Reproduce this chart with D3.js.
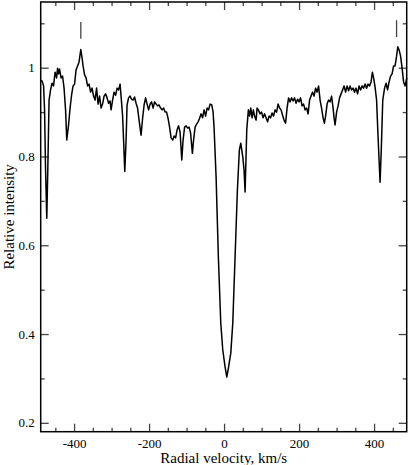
<!DOCTYPE html>
<html><head><meta charset="utf-8">
<script src="https://cdn.jsdelivr.net/npm/d3@7"></script>
<style>body{margin:0;background:#fff}svg{display:block}
text{font-family:"Liberation Serif","Times New Roman",Times,"DejaVu Serif",serif !important;}</style>
</head><body>
<script>
// Data
const velocity = [-488.8,-485.3,-481.3,-478.7,-476,-472.8,-470.1,-466.7,-462.7,-458.7,-454.7,-450.7,-446.7,-444,-441.3,-438.7,-434.7,-430.7,-426.7,-422.7,-419.5,-414.7,-410.7,-406.7,-402.7,-398.7,-394.7,-390.7,-386.7,-382.1,-378.7,-376,-372,-368,-364,-360,-356,-352,-348,-344,-340,-336,-332,-328,-324,-320,-316,-312,-308,-304,-301.3,-297.3,-293.3,-289.3,-285.3,-281.3,-277.3,-274.7,-270.7,-268,-264.8,-261.3,-258.7,-254.7,-250.7,-246.7,-242.7,-238.7,-234.7,-230.7,-226.7,-221.3,-217.3,-213.3,-209.3,-205.3,-201.3,-197.3,-193.3,-189.3,-185.3,-181.3,-177.3,-173.3,-169.3,-165.3,-161.3,-157.3,-153.3,-149.3,-145.3,-141.3,-136.8,-133.3,-129.3,-125.3,-121.3,-117.3,-112.8,-109.3,-105.3,-101.3,-97.3,-93.3,-89.3,-84.5,-81.3,-77.3,-73.3,-69.3,-65.3,-61.3,-57.3,-53.3,-49.3,-45.3,-41.3,-37.3,-32.8,-29.3,-26.7,-21.3,-15.2,-8.8,-3.5,2.7,7.2,11.5,17.9,23.2,29.3,35.5,40.8,44.5,49.9,53.3,56,60.5,64.8,68,71.2,74.7,78.1,81.3,85.3,88,91.5,96,100,104,108,112,116,120,124,128,132,136,140,144,148,152,156,160,164,168,172,176,180,184,188,192,196,200,204,208,212,216,220,224,228,232,236,240,244,248,252,256,260,264,267.5,270.7,274.7,278.7,282.7,286.7,290.7,293.3,296,300,304,308,312,316,320,324,328,332,336,340,344,348,352,356,360,364,368,372,376,380,384,388,392,395.5,398.7,402.7,406.7,409.9,413.3,416,419.2,423.2,428,432,436,440,444,448,452,456,460,463.2,466.7,470.7,474.7,478.7,482.7,487.2];
const intensity = [0.972,0.970,0.959,0.905,0.769,0.661,0.769,0.927,0.950,0.965,0.959,0.990,0.977,0.999,0.986,0.997,0.977,0.981,0.954,0.905,0.837,0.871,0.909,0.938,0.959,0.963,0.995,1.004,1.013,1.041,1.022,1.004,0.984,0.977,0.959,0.963,0.945,0.954,0.936,0.927,0.954,0.918,0.936,0.909,0.918,0.936,0.941,0.932,0.920,0.925,0.905,0.927,0.945,0.938,0.954,0.950,0.963,0.936,0.893,0.837,0.766,0.837,0.916,0.932,0.936,0.929,0.927,0.934,0.920,0.909,0.882,0.848,0.886,0.916,0.932,0.918,0.905,0.918,0.923,0.909,0.923,0.918,0.914,0.916,0.909,0.905,0.909,0.900,0.900,0.886,0.866,0.842,0.837,0.846,0.842,0.860,0.869,0.855,0.792,0.837,0.866,0.869,0.864,0.866,0.853,0.807,0.837,0.866,0.873,0.878,0.886,0.896,0.887,0.905,0.891,0.909,0.905,0.918,0.916,0.900,0.866,0.754,0.573,0.425,0.364,0.326,0.303,0.323,0.357,0.425,0.573,0.724,0.815,0.830,0.799,0.769,0.720,0.860,0.905,0.891,0.909,0.887,0.905,0.891,0.882,0.909,0.905,0.896,0.900,0.887,0.896,0.887,0.878,0.891,0.887,0.898,0.891,0.905,0.900,0.918,0.909,0.905,0.893,0.882,0.875,0.909,0.932,0.923,0.932,0.925,0.932,0.920,0.929,0.923,0.932,0.914,0.918,0.905,0.909,0.896,0.927,0.936,0.945,0.936,0.954,0.945,0.959,0.927,0.909,0.887,0.875,0.891,0.918,0.927,0.923,0.936,0.909,0.887,0.871,0.900,0.914,0.932,0.941,0.950,0.959,0.945,0.959,0.948,0.959,0.950,0.954,0.945,0.954,0.941,0.959,0.950,0.959,0.954,0.963,0.954,0.963,0.959,0.968,0.990,0.977,0.956,0.927,0.860,0.792,0.742,0.815,0.927,0.954,0.965,0.950,0.968,0.981,0.986,1.004,1.004,1.026,1.047,1.040,1.026,0.999,0.968,0.959,0.977];
const markerVelocity = [-382, 460];
const markerTop = [1.103, 1.107];
const markerBottom = [1.065, 1.069];
const xTicks = [-400, -200, 0, 200, 400];
const xTickLabels = ["-400", "-200", "0", "200", "400"];
const xMinorTicks = [-450,-350,-300,-250,-150,-100,-50,50,100,150,250,300,350,450];
const yTicks = [0.2, 0.4, 0.6, 0.8, 1.0];
const yTickLabels = ["0.2", "0.4", "0.6", "0.8", "1"];
const yMinorTicks = [0.3, 0.5, 0.7, 0.9, 1.1];
const xTitle = "Radial velocity, km/s";
const yTitle = "Relative intensity";

const W = 409, H = 465;
const m = {left: 40.7, right: 2.3, top: 2, bottom: 33.3};
const svg = d3.select("body").append("svg").attr("width", W).attr("height", H);
const x = d3.scaleLinear().domain([-489, 487]).range([m.left, W - m.right]);
const y = d3.scaleLinear().domain([0.18, 1.148]).range([H - m.bottom, m.top]);
const font = "Liberation Serif, Times New Roman, Times, DejaVu Serif, serif";

const tickColor = "#444";
const pw = W - m.left - m.right, ph = H - m.top - m.bottom;
// bottom axis (ticks inward)
const gb = svg.append("g").attr("transform", `translate(0,${H - m.bottom})`);
gb.call(d3.axisTop(x).tickValues(xTicks).tickSize(8).tickFormat(""));
gb.append("g").call(d3.axisTop(x).tickValues(xMinorTicks).tickSize(4).tickFormat(""));
const gbl = svg.append("g").attr("transform", `translate(0,${H - m.bottom})`)
  .call(d3.axisBottom(x).tickValues(xTicks).tickSize(0).tickPadding(7).tickFormat((d, i) => xTickLabels[i]));
gbl.select(".domain").remove();
// top axis
const gt = svg.append("g").attr("transform", `translate(0,${m.top})`);
gt.call(d3.axisBottom(x).tickValues(xTicks).tickSize(8).tickFormat(""));
gt.append("g").call(d3.axisBottom(x).tickValues(xMinorTicks).tickSize(4).tickFormat(""));
// left axis
const gl = svg.append("g").attr("transform", `translate(${m.left},0)`);
gl.call(d3.axisRight(y).tickValues(yTicks).tickSize(8).tickFormat(""));
gl.append("g").call(d3.axisRight(y).tickValues(yMinorTicks).tickSize(4).tickFormat(""));
const gll = svg.append("g").attr("transform", `translate(${m.left},0)`)
  .call(d3.axisLeft(y).tickValues(yTicks).tickSize(0).tickPadding(6).tickFormat((d, i) => yTickLabels[i]));
gll.select(".domain").remove();
// right axis
const gr = svg.append("g").attr("transform", `translate(${W - m.right},0)`);
gr.call(d3.axisLeft(y).tickValues(yTicks).tickSize(8).tickFormat(""));
gr.append("g").call(d3.axisLeft(y).tickValues(yMinorTicks).tickSize(4).tickFormat(""));

svg.selectAll("g").attr("font-family", font);
svg.selectAll(".tick text").attr("font-family", font).attr("font-size", 13).attr("fill", "#000");
svg.selectAll(".domain").attr("stroke", "none");
svg.selectAll(".tick line").attr("stroke", tickColor).attr("stroke-width", 1.3);

// frame
svg.append("rect").attr("x", m.left).attr("y", m.top).attr("width", pw).attr("height", ph)
  .attr("fill", "none").attr("stroke", "#000").attr("stroke-width", 1.5);

// spectrum
const data = velocity.map((v, i) => [v, intensity[i]]);
svg.append("path").datum(data)
  .attr("fill", "none").attr("stroke", "#000").attr("stroke-width", 1.5).attr("stroke-linejoin", "round")
  .attr("d", d3.line().x(d => x(d[0])).y(d => y(d[1])));

// markers
svg.selectAll(".mk").data(markerVelocity).enter().append("line")
  .attr("x1", d => x(d)).attr("x2", d => x(d))
  .attr("y1", (d, i) => y(markerTop[i])).attr("y2", (d, i) => y(markerBottom[i]))
  .attr("stroke", "#444").attr("stroke-width", 1.3);

// titles
svg.append("text").attr("x", (m.left + W - m.right) / 2).attr("y", H - 2.5)
  .attr("text-anchor", "middle").attr("font-family", font).attr("font-size", 15).text(xTitle);
svg.append("text").attr("transform", `translate(14,${m.top + ph / 2}) rotate(-90)`)
  .attr("text-anchor", "middle").attr("font-family", font).attr("font-size", 15).text(yTitle);
</script>
</body></html>
